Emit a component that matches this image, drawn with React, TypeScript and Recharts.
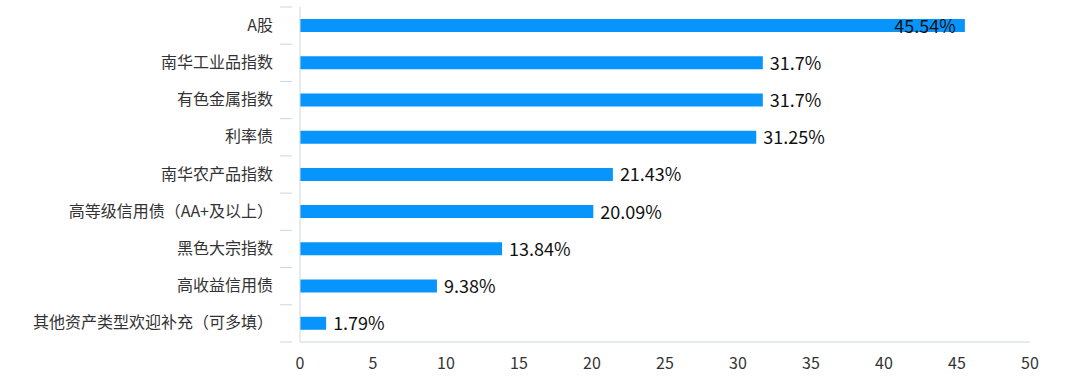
import { BarChart, Bar, XAxis, YAxis, LabelList } from "recharts"

const categories = [
  "A股",
  "南华工业品指数",
  "有色金属指数",
  "利率债",
  "南华农产品指数",
  "高等级信用债（AA+及以上）",
  "黑色大宗指数",
  "高收益信用债",
  "其他资产类型欢迎补充（可多填）",
]
const values = [45.54, 31.7, 31.7, 31.25, 21.43, 20.09, 13.84, 9.38, 1.79]
const xTicks = [0, 5, 10, 15, 20, 25, 30, 35, 40, 45, 50]

const data = categories.map((name, i) => ({ name, value: values[i] }))

const FONT = '"Noto Sans CJK SC", "Noto Sans", sans-serif'
const AXIS = "#c9d6e8"
const TOP = 7
const PLOT_H = 335
const BAND = PLOT_H / categories.length

function CategoryTick(props: any) {
  const { x, y, payload, index } = props
  const top = y - BAND / 2
  return (
    <g>
      <line x1={x - 12} x2={x} y1={top} y2={top} stroke={AXIS} />
      {index === categories.length - 1 && (
        <line x1={x - 12} x2={x} y1={top + BAND} y2={top + BAND} stroke={AXIS} />
      )}
      <text x={x - 19} y={y} dy={5} textAnchor="end" fontSize={16} fill="#333" fontFamily={FONT}>
        {payload.value}
      </text>
    </g>
  )
}

function ValueLabel(props: any) {
  const { x, y, width, height, value } = props
  const inside = value > 40
  return (
    <text
      x={inside ? x + width - 9 : x + width + 7}
      y={y + height / 2}
      dy={7}
      textAnchor={inside ? "end" : "start"}
      fontSize={18}
      fill="#111"
      fontFamily={FONT}
    >
      {value}%
    </text>
  )
}

export default function App() {
  return (
    <div style={{ position: "absolute", left: 0, top: 0, background: "#fff" }}>
      <BarChart
        width={1080}
        height={382}
        data={data}
        layout="vertical"
        barSize={13}
        margin={{ top: TOP, right: 50, left: 0, bottom: 0 }}
      >
        <XAxis
          type="number"
          domain={[0, 50]}
          ticks={xTicks}
          axisLine={{ stroke: AXIS }}
          tickLine={false}
          height={40}
          tickMargin={10}
          tick={{ fontSize: 16, fill: "#333", fontFamily: FONT }}
        />
        <YAxis
          type="category"
          dataKey="name"
          width={300}
          axisLine={{ stroke: AXIS }}
          tickLine={false}
          interval={0}
          tick={<CategoryTick />}
        />
        <Bar dataKey="value" fill="#0795fb" isAnimationActive={false}>
          <LabelList dataKey="value" content={<ValueLabel />} />
        </Bar>
      </BarChart>
    </div>
  )
}
